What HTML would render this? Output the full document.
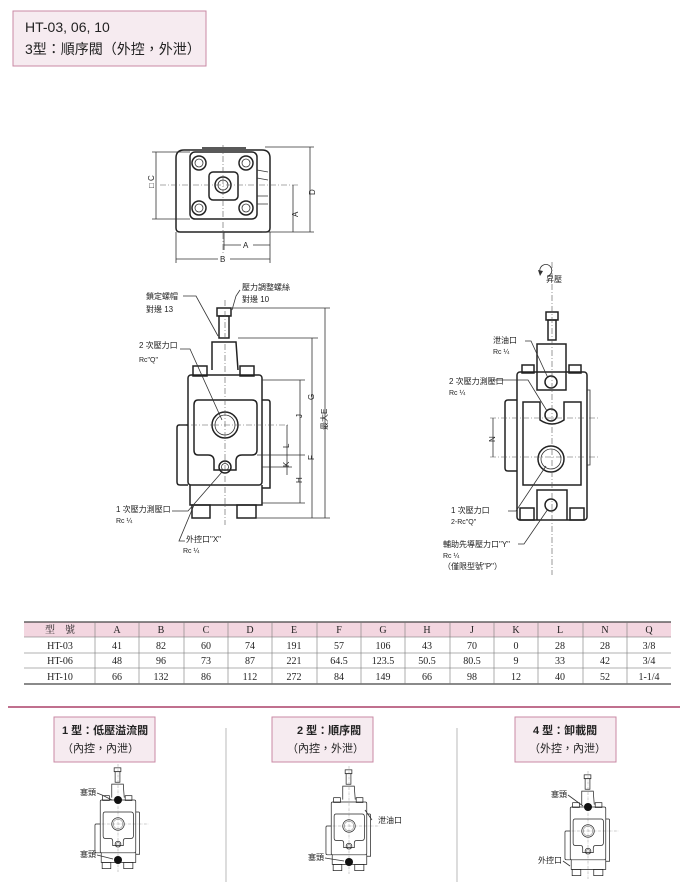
<!DOCTYPE html>
<html><head><meta charset="utf-8"><style>
html,body{margin:0;padding:0;background:#fff;}
svg{display:block;font-family:"Liberation Sans","Noto Sans CJK TC",sans-serif;}
.l{stroke:#222;stroke-width:1.5;fill:none}
.t{stroke:#333;stroke-width:0.8;fill:none}
.d{stroke:#555;stroke-width:0.6;fill:none;stroke-dasharray:6 2 1 2}
.s{font-size:8px;fill:#222}
.tb{font-family:"Liberation Serif","Noto Serif CJK SC",serif;font-size:10px;fill:#222}
</style></head><body>
<svg width="690" height="882" viewBox="0 0 690 882" xmlns="http://www.w3.org/2000/svg">
<rect x="13" y="11" width="193" height="55" fill="#f6ebf0" stroke="#c98aa4" stroke-width="1"/>
<text x="25" y="32" font-size="14" fill="#222">HT-03, 06, 10</text>
<text x="25" y="54" font-size="14" fill="#222">3型：順序閥（外控，外泄）</text>

<g>
<path class="l" d="M176,158 Q176,150 184,150 L262,150 Q270,150 270,158 L270,228 Q270,232 266,232 L180,232 Q176,232 176,228 Z"/>
<rect class="l" x="190" y="152" width="67" height="67" rx="5"/>
<rect class="l" x="209" y="172" width="29" height="28" rx="4"/>
<circle class="l" cx="223" cy="185" r="8"/><circle class="t" cx="223" cy="185" r="5"/>
<g class="l"><circle cx="199" cy="163" r="7"/><circle cx="246" cy="163" r="7"/><circle cx="199" cy="208" r="7"/><circle cx="246" cy="208" r="7"/></g>
<g class="t"><circle cx="199" cy="163" r="4"/><circle cx="246" cy="163" r="4"/><circle cx="199" cy="208" r="4"/><circle cx="246" cy="208" r="4"/></g>
<path class="t" d="M257,170 L268,172 M257,178 L268,180 M257,196 L268,196 M257,204 L268,204"/>
<path class="l" d="M202,148 L246,148"/>
<path class="d" d="M160,185 L300,185 M223,145 L223,255"/>
<path class="t" d="M152,152 L190,152 M152,219 L190,219 M156,152 L156,219 M265,147 L314,147 M262,232 L314,232 M310,147 L310,232 M293,185 L293,232 M224,232 L224,250 M270,232 L270,263 M176,232 L176,263 M224,245 L270,245 M176,259 L270,259"/>
<text class="s" x="150" y="188" transform="rotate(-90 152 186)">□ C</text>
<text class="s" x="306" y="190" transform="rotate(-90 313 188)">D</text>
<text class="s" x="289" y="212" transform="rotate(-90 296 210)">A</text>
<rect x="241" y="240" width="12" height="10" fill="#fff"/><text class="s" x="243" y="248">A</text>
<rect x="218" y="254" width="12" height="10" fill="#fff"/><text class="s" x="220" y="262">B</text>
</g>

<g id="fv">
<rect class="l" x="217" y="308" width="14" height="8"/>
<rect class="l" x="219" y="316" width="10" height="22"/>
<path class="l" d="M212,370 L212,342 L236,342 L238,370"/>
<rect class="l" x="193" y="366" width="14" height="10"/>
<rect class="l" x="240" y="366" width="14" height="10"/>
<rect class="l" x="188" y="375" width="74" height="110" rx="3"/>
<path class="l" d="M188,425 L179,425 Q177,425 177,428 L177,482 Q177,485 180,485 L188,485"/>
<path class="l" d="M262,400 L268,400 Q270,400 270,403 L270,488 L262,488"/>
<path class="l" d="M198,400 L252,400 Q257,400 257,405 L257,450 Q257,455 252,455 L242,455 Q236,455 236,461 L236,470 L214,470 L214,461 Q214,455 208,455 L198,455 Q194,455 194,450 L194,405 Q194,400 198,400 Z"/>
<circle class="l" cx="225" cy="425" r="13"/><circle class="t" cx="225" cy="425" r="10"/>
<circle class="l" cx="225" cy="467" r="6"/><circle class="t" cx="225" cy="467" r="3.5"/>
<path class="l" d="M190,485 L190,505 L262,505 L262,485"/>
<rect class="l" x="192" y="505" width="18" height="13"/>
<rect class="l" x="237" y="505" width="19" height="13"/>
<path class="d" d="M225,300 L225,525 M180,425 L290,425"/>
</g>
<path class="t" d="M232,308 L330,308 M238,338 L318,338 M262,380 L305,380 M257,455 L305,455 M262,467 L292,467 M262,503 L305,503 M256,518 L330,518 M325,308 L325,518 M312,338 L312,518 M300,380 L300,503 M287,425 L287,475"/>
<g class="s">
<text x="308" y="398" transform="rotate(-90 312 396)">G</text>
<text x="308" y="458" transform="rotate(-90 312 456)">F</text>
<text x="318" y="425" transform="rotate(-90 325 423)">最大E</text>
<text x="296" y="416" transform="rotate(-90 300 414)">J</text>
<text x="296" y="481" transform="rotate(-90 300 479)">H</text>
<text x="283" y="446" transform="rotate(-90 287 444)">L</text>
<text x="283" y="465" transform="rotate(-90 287 463)">K</text>
</g>
<path class="t" d="M183,296 L196,296 L218,336 M240,290 L236,296 L232,310 M180,349 L190,349 L222,420 M172,511 L188,511 L222,472 M185,541 L179,541 L194,505"/>
<g class="s">
<text x="146" y="299">鎖定螺帽</text><text x="146" y="312">對邊 13</text>
<text x="242" y="290">壓力調整螺絲</text><text x="242" y="302">對邊 10</text>
<text x="139" y="348">2 次壓力口</text><text x="139" y="362" font-size="7">Rc"Q"</text>
<text x="116" y="512">1 次壓力測壓口</text><text x="116" y="523" font-size="7">Rc ¼</text>
<text x="186" y="542">外控口"X"</text><text x="183" y="553" font-size="7">Rc ¼</text>
</g>

<g>
<path class="t" d="M540,272 A6,6 0 1 1 548,276"/><path d="M538,270 L540,276 L543,271 Z" fill="#333"/>
<text class="s" x="546" y="282" font-size="7">昇壓</text>
<rect class="l" x="546" y="312" width="12" height="8"/>
<rect class="l" x="548" y="320" width="8" height="20"/>
<path class="l" d="M537,372 L537,344 L566,344 L566,372"/>
<rect class="l" x="522" y="365" width="12" height="8"/><rect class="l" x="569" y="365" width="12" height="8"/>
<rect class="l" x="517" y="372" width="70" height="148" rx="3"/>
<path class="l" d="M517,400 L508,400 Q505,400 505,403 L505,468 Q505,471 508,471 L517,471"/>
<path class="t" d="M587,390 L590,390 L590,465 L587,465"/>
<path class="l" d="M537,372 L537,390 L566,390 L566,372"/>
<path class="l" d="M523,402 L540,402 L540,420 Q552,428 564,420 L564,402 L581,402 L581,485 L523,485 Z"/>
<path class="l" d="M537,520 L537,490 L567,490 L567,520"/>
<circle class="l" cx="551" cy="382" r="6"/><circle class="l" cx="551" cy="415" r="6"/>
<circle class="l" cx="551" cy="459" r="13"/><circle class="t" cx="551" cy="459" r="10"/>
<circle class="l" cx="551" cy="505" r="6"/>
<rect class="l" x="520" y="508" width="14" height="12"/><rect class="l" x="570" y="508" width="14" height="12"/>
<path class="d" d="M552,262 L552,575 M490,418 L600,418 M490,457 L600,457"/>
<path class="t" d="M493,418 L493,457"/>
<text class="s" x="489" y="440" transform="rotate(-90 493 438)">N</text>
<path class="t" d="M525,341 L531,341 L548,378 M490,380 L528,380 L547,411 M508,511 L516,511 L546,466 M518,544 L524,544 L548,509"/>
</g>
<g class="s">
<text x="493" y="343">泄油口</text><text x="493" y="354" font-size="7">Rc ¼</text>
<text x="449" y="384">2 次壓力測壓口</text><text x="449" y="395" font-size="7">Rc ¼</text>
<text x="451" y="513">1 次壓力口</text><text x="451" y="524" font-size="7">2-Rc"Q"</text>
<text x="443" y="547">輔助先導壓力口"Y"</text><text x="443" y="558" font-size="7">Rc ¼</text>
<text x="443" y="569">（僅限型號"P"）</text>
</g>

<rect x="24" y="622" width="647" height="15" fill="#f3d6e0"/>
<path d="M24,622 L671,622 M24,684 L671,684" stroke="#444" stroke-width="1.3"/>
<path d="M24,637 L671,637 M24,653 L671,653 M24,668 L671,668" stroke="#666" stroke-width="0.6"/>
<g stroke="#777" stroke-width="0.6">
<path d="M95,622V684M139,622V684M184,622V684M228,622V684M272,622V684M317,622V684M361,622V684M405,622V684M450,622V684M494,622V684M538,622V684M583,622V684M627,622V684"/>
</g>
<g class="tb" text-anchor="middle">
<text x="60" y="633">型　號</text><text x="117" y="633">A</text><text x="161" y="633">B</text><text x="206" y="633">C</text><text x="250" y="633">D</text><text x="294" y="633">E</text><text x="339" y="633">F</text><text x="383" y="633">G</text><text x="427" y="633">H</text><text x="472" y="633">J</text><text x="516" y="633">K</text><text x="560" y="633">L</text><text x="605" y="633">N</text><text x="649" y="633">Q</text>
<text x="60" y="649">HT-03</text><text x="117" y="649">41</text><text x="161" y="649">82</text><text x="206" y="649">60</text><text x="250" y="649">74</text><text x="294" y="649">191</text><text x="339" y="649">57</text><text x="383" y="649">106</text><text x="427" y="649">43</text><text x="472" y="649">70</text><text x="516" y="649">0</text><text x="560" y="649">28</text><text x="605" y="649">28</text><text x="649" y="649">3/8</text>
<text x="60" y="664">HT-06</text><text x="117" y="664">48</text><text x="161" y="664">96</text><text x="206" y="664">73</text><text x="250" y="664">87</text><text x="294" y="664">221</text><text x="339" y="664">64.5</text><text x="383" y="664">123.5</text><text x="427" y="664">50.5</text><text x="472" y="664">80.5</text><text x="516" y="664">9</text><text x="560" y="664">33</text><text x="605" y="664">42</text><text x="649" y="664">3/4</text>
<text x="60" y="680">HT-10</text><text x="117" y="680">66</text><text x="161" y="680">132</text><text x="206" y="680">86</text><text x="250" y="680">112</text><text x="294" y="680">272</text><text x="339" y="680">84</text><text x="383" y="680">149</text><text x="427" y="680">66</text><text x="472" y="680">98</text><text x="516" y="680">12</text><text x="560" y="680">40</text><text x="605" y="680">52</text><text x="649" y="680">1-1/4</text>
</g>

<path d="M8,707 L680,707" stroke="#c0708e" stroke-width="2"/>
<path d="M226,728V882M457,728V882" stroke="#aaa" stroke-width="0.8"/>
<rect x="54" y="717" width="101" height="45" fill="#f6ebf0" stroke="#c98aa4"/>
<rect x="272" y="717" width="101" height="45" fill="#f6ebf0" stroke="#c98aa4"/>
<rect x="515" y="717" width="101" height="45" fill="#f6ebf0" stroke="#c98aa4"/>
<g font-size="11" fill="#222">
<text x="62" y="734" font-weight="bold">1 型：低壓溢流閥</text><text x="62" y="752">（內控，內泄）</text>
<text x="297" y="734" font-weight="bold">2 型：順序閥</text><text x="287" y="752">（內控，外泄）</text>
<text x="533" y="734" font-weight="bold">4 型：卸載閥</text><text x="529" y="752">（外控，內泄）</text>
</g>
<use href="#fv" transform="translate(10,620) scale(0.48)"/>
<use href="#fv" transform="translate(241,622) scale(0.48)"/>
<use href="#fv" transform="translate(480,627) scale(0.48)"/>
<g fill="#111"><circle cx="118" cy="800" r="4"/><circle cx="118" cy="860" r="4"/><circle cx="349" cy="862" r="4"/><circle cx="588" cy="807" r="4"/></g>
<g class="s">
<text x="80" y="795">塞頭</text><text x="80" y="857">塞頭</text>
<text x="378" y="823">泄油口</text><text x="308" y="860">塞頭</text>
<text x="551" y="797">塞頭</text><text x="538" y="863">外控口</text>
</g>
<path class="t" d="M97,793 L102,795 L112,800 M97,855 L113,859 M372,820 L365,810 M325,858 L344,861 M568,795 L583,806 M563,861 L570,866"/>
</svg>
</body></html>
